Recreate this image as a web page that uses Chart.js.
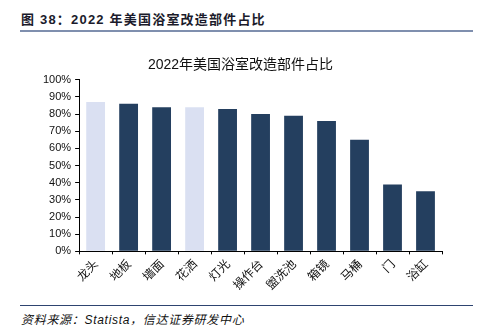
<!DOCTYPE html>
<html>
<head>
<meta charset="utf-8">
<script src="https://cdn.jsdelivr.net/npm/chart.js@4"></script>
<style>
  html, body { margin: 0; padding: 0; background: #fff; }
  body { width: 481px; height: 334px; position: relative; overflow: hidden; font-family: "Liberation Sans", "Noto Sans CJK SC", sans-serif; }
  #head { position: absolute; left: 21px; top: 9px; font-size: 13px; font-weight: bold; color: #1b1b2b; letter-spacing: 1.2px; }
  #headLine { position: absolute; left: 20px; top: 30px; width: 453px; height: 2px; background: #7f8fae; }
  #footLine { position: absolute; left: 20px; top: 305px; width: 453px; height: 1px; background: #2e4470; }
  #foot { position: absolute; left: 21px; top: 310px; font-size: 12px; font-style: italic; color: #111; letter-spacing: 0.7px; }
  #wrap { position: absolute; left: 0; top: 40px; width: 481px; height: 254px; }
</style>
</head>
<body>
<div id="head">图 38：2022 年美国浴室改造部件占比</div>
<div id="headLine"></div>
<div id="wrap"><canvas id="barChart"></canvas></div>
<div id="footLine"></div>
<div id="foot">资料来源：Statista，信达证券研发中心</div>
<script>
const categories = ['龙头', '地板', '墙面', '花洒', '灯光', '操作台', '盥洗池', '箱镜', '马桶', '门', '浴缸'];
const shares = [87, 86, 84, 84, 83, 80, 79, 76, 65, 39, 35];
const highlighted = ['龙头', '花洒'];
const yTicks = [0, 10, 20, 30, 40, 50, 60, 70, 80, 90, 100];

document.addEventListener('DOMContentLoaded', () => {
    const ctx = document.getElementById('barChart');
    new Chart(ctx, {
        type: 'bar',
        data: {
            labels: categories,
            datasets: [{
                data: shares,
                backgroundColor: categories.map(c => highlighted.includes(c) ? '#dae0f2' : '#243f5f'),
                borderWidth: 0,
                categoryPercentage: 1,
                barPercentage: 0.57,
            }]
        },
        options: {
            responsive: true,
            maintainAspectRatio: false,
            animation: false,
            layout: { padding: { left: 39, right: 39, top: 0, bottom: 0 } },
            plugins: {
                legend: { display: false },
                tooltip: { enabled: false },
                title: {
                    display: true,
                    text: '2022年美国浴室改造部件占比',
                    color: '#111',
                    font: { family: 'Liberation Sans, Noto Sans CJK SC', size: 14, weight: 'normal' },
                    padding: { top: 17, bottom: 6 }
                }
            },
            scales: {
                x: {
                    grid: { display: true, drawOnChartArea: false, drawTicks: true, tickLength: 3, color: '#000', offset: true },
                    border: { color: '#000', width: 1 },
                    ticks: {
                        color: '#111',
                        font: { family: 'Noto Sans CJK SC', size: 12 },
                        minRotation: 45, maxRotation: 45, padding: 2
                    }
                },
                y: {
                    min: 0, max: 100,
                    afterBuildTicks: axis => { axis.ticks = yTicks.map(v => ({ value: v })); },
                    grid: { display: true, drawOnChartArea: false, drawTicks: true, tickLength: 4, color: '#000' },
                    border: { color: '#000', width: 1 },
                    ticks: {
                        color: '#111',
                        font: { family: 'Liberation Sans', size: 11 },
                        padding: 4,
                        callback: v => v + '%'
                    }
                }
            }
        }
    });
});
</script>
</body>
</html>
